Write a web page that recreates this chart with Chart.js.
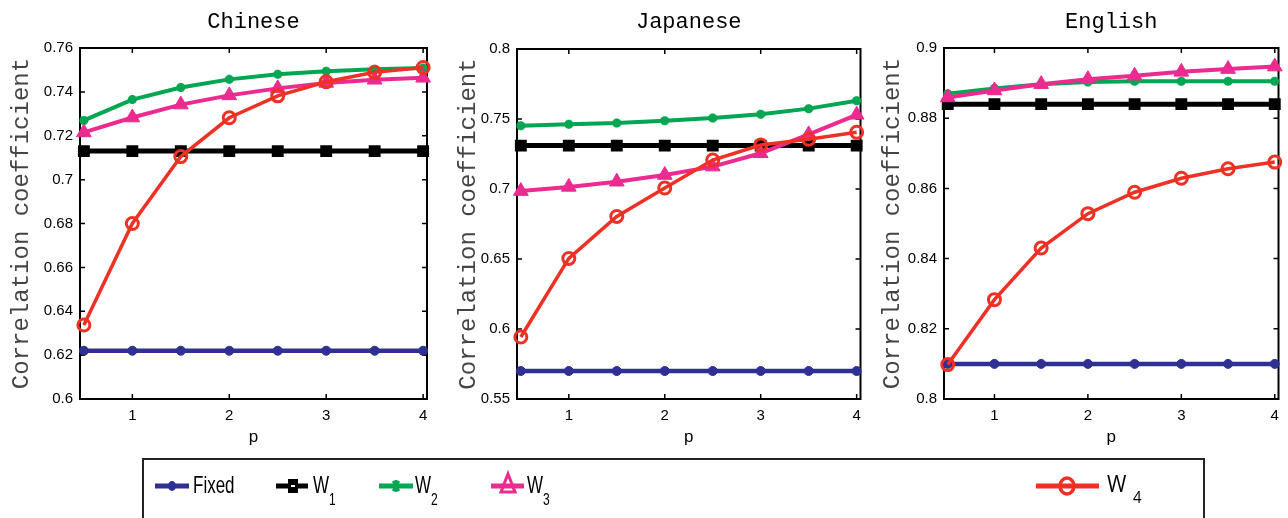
<!DOCTYPE html>
<html><head><meta charset="utf-8">
<script src="https://cdn.jsdelivr.net/npm/chart.js@4.4.0/dist/chart.umd.min.js"></script>
<style>
html,body{margin:0;padding:0;background:#fff;width:1288px;height:518px;overflow:hidden;position:relative}
.pane{position:absolute;top:0;height:455px}
#legend{position:absolute;left:142px;top:458px;width:1063px;height:64px;border:2px solid #222;box-sizing:border-box;background:#fff}
#legend canvas{position:absolute;left:0;top:0}
.lt{position:absolute;font-family:'Liberation Sans Narrow','Arial Narrow','Liberation Sans',sans-serif;color:#000;transform-origin:0 0;white-space:nowrap;line-height:1}
</style></head>
<body>
<div class="pane" style="left:0;width:440px"><canvas id="c1" width="440" height="455"></canvas></div>
<div class="pane" style="left:447px;width:423px"><canvas id="c2" width="423" height="455"></canvas></div>
<div class="pane" style="left:871px;width:417px"><canvas id="c3" width="417" height="455"></canvas></div>
<div id="legend"><canvas id="lg" width="1063" height="64"></canvas></div>
<script>
// ---- data ----
const pValues = [0.5, 1, 1.5, 2, 2.5, 3, 3.5, 4];
const xTicks = [1, 2, 3, 4];
const seriesNames = ['Fixed', 'W1', 'W2', 'W3', 'W4'];

const chineseFixed = [0.622, 0.622, 0.622, 0.622, 0.622, 0.622, 0.622, 0.622];
const chineseW1 = [0.713, 0.713, 0.713, 0.713, 0.713, 0.713, 0.713, 0.713];
const chineseW2 = [0.727, 0.7365, 0.742, 0.7457, 0.748, 0.7494, 0.7503, 0.7509];
const chineseW3 = [0.7215, 0.7283, 0.7342, 0.7384, 0.7416, 0.7441, 0.7455, 0.7464];
const chineseW4 = [0.6337, 0.68, 0.7105, 0.7282, 0.7382, 0.7446, 0.7489, 0.7511];
const chineseYTicks = [0.6, 0.62, 0.64, 0.66, 0.68, 0.7, 0.72, 0.74, 0.76];

const japaneseFixed = [0.57, 0.57, 0.57, 0.57, 0.57, 0.57, 0.57, 0.57];
const japaneseW1 = [0.731, 0.731, 0.731, 0.731, 0.731, 0.731, 0.731, 0.731];
const japaneseW2 = [0.7452, 0.7462, 0.7471, 0.7488, 0.7507, 0.7534, 0.7574, 0.7631];
const japaneseW3 = [0.6985, 0.7015, 0.7052, 0.71, 0.716, 0.7255, 0.739, 0.753];
const japaneseW4 = [0.5943, 0.6504, 0.6804, 0.7007, 0.7207, 0.7314, 0.7355, 0.7405];
const japaneseYTicks = [0.55, 0.6, 0.65, 0.7, 0.75, 0.8];

const englishFixed = [0.81, 0.81, 0.81, 0.81, 0.81, 0.81, 0.81, 0.81];
const englishW1 = [0.884, 0.884, 0.884, 0.884, 0.884, 0.884, 0.884, 0.884];
const englishW2 = [0.887, 0.8885, 0.8897, 0.8903, 0.8905, 0.8905, 0.8905, 0.8905];
const englishW3 = [0.8859, 0.8879, 0.8897, 0.8911, 0.8921, 0.8932, 0.894, 0.8947];
const englishW4 = [0.8098, 0.8283, 0.843, 0.8528, 0.8589, 0.8629, 0.8656, 0.8675];
const englishYTicks = [0.8, 0.82, 0.84, 0.86, 0.88, 0.9];

// ---- styles ----
const styles = [
  {color:'#2e3192', pointStyle:'circle', radius:4.5, width:4.5, pbw:1, bg:'#2e3192', order:5},
  {color:'#000000', pointStyle:'rect', radius:7, width:5, pbw:2, bg:'#000000', order:4},
  {color:'#00a651', pointStyle:'star', radius:4.5, width:4, pbw:3, bg:'#00a651', order:3},
  {color:'#ec2a8f', pointStyle:'triangle', radius:8.5, width:4, pbw:1, bg:'#ec2a8f', order:2},
  {color:'#ee3124', pointStyle:'circle', radius:6, width:3.5, pbw:3, bg:'rgba(0,0,0,0)', order:1}
];
const tickFont = {family:"'Liberation Sans Narrow','Arial Narrow','Liberation Sans',sans-serif", size:15};
const monoFont = "'Liberation Mono','DejaVu Sans Mono',monospace";

const framePlugin = {
  id:'frame',
  beforeDatasetsDraw(chart){
    const {ctx, chartArea:a, scales} = chart;
    ctx.save();
    ctx.strokeStyle = '#000'; ctx.lineWidth = 2;
    ctx.strokeRect(a.left, a.top, a.right - a.left, a.bottom - a.top);
    ctx.lineWidth = 1.5;
    const L = 5;
    ctx.beginPath();
    scales.x.ticks.forEach(t => {
      const x = scales.x.getPixelForValue(t.value);
      ctx.moveTo(x, a.bottom); ctx.lineTo(x, a.bottom - L);
      ctx.moveTo(x, a.top); ctx.lineTo(x, a.top + L);
    });
    scales.y.ticks.forEach(t => {
      const y = scales.y.getPixelForValue(t.value);
      ctx.moveTo(a.left, y); ctx.lineTo(a.left + L, y);
      ctx.moveTo(a.right, y); ctx.lineTo(a.right - L, y);
    });
    ctx.stroke();
    ctx.restore();
  }
};

function fmt(v){ return String(Number(v.toFixed(3))); }

function makeChart(id, title, series, yTicks, geo){
  const datasets = series.map((vals, i) => {
    const s = styles[i];
    return {
      label: seriesNames[i],
      data: pValues.map((p, k) => ({x:p, y:vals[k]})),
      borderColor: s.color, backgroundColor: s.bg,
      borderWidth: s.width, pointStyle: s.pointStyle, pointRadius: s.radius,
      pointBorderWidth: s.pbw, pointBorderColor: s.color, pointBackgroundColor: s.bg,
      pointHoverRadius: s.radius, tension: 0, clip: false, order: s.order
    };
  });
  const titleH = 22 * 1.2;
  return new Chart(document.getElementById(id), {
    type:'line',
    data:{datasets},
    plugins:[framePlugin],
    options:{
      responsive:false, animation:false, events:[],
      layout:{padding:{left:0, right:geo.padRight, top:0, bottom:0}},
      plugins:{
        legend:{display:false}, tooltip:{enabled:false},
        title:{display:true, text:title, fullSize:false, color:'#000',
          font:{family:monoFont, size:22, weight:'normal'},
          padding:{top:9, bottom:geo.top - 9 - titleH}}
      },
      scales:{
        x:{type:'linear', min:0.46, max:4.04,
          afterBuildTicks: s => { s.ticks = xTicks.map(v => ({value:v})); },
          afterFit: s => { s.height = 56; },
          grid:{display:false, drawTicks:false}, border:{display:false},
          ticks:{color:'#000', font:tickFont, padding:8, maxRotation:0, autoSkip:false,
            callback: v => String(v)},
          title:{display:true, text:'p', color:'#000',
            font:{family:tickFont.family, size:17}, padding:{top:0, bottom:7}}
        },
        y:{type:'linear', min:yTicks[0], max:yTicks[yTicks.length-1],
          afterBuildTicks: s => { s.ticks = yTicks.map(v => ({value:v})); },
          afterFit: s => { s.width = geo.yw; },
          grid:{display:false, drawTicks:false}, border:{display:false},
          ticks:{color:'#000', font:tickFont, padding:7, autoSkip:false, callback: v => fmt(v)},
          title:{display:true, text:'Correlation coefficient', color:'#444',
            font:{family:monoFont, size:24}, padding:{top:7.6, bottom:0}}
        }
      }
    }
  });
}

makeChart('c1', 'Chinese', [chineseFixed, chineseW1, chineseW2, chineseW3, chineseW4], chineseYTicks, {yw:80, padRight:13, top:48});
makeChart('c2', 'Japanese', [japaneseFixed, japaneseW1, japaneseW2, japaneseW3, japaneseW4], japaneseYTicks, {yw:70, padRight:8, top:49});
makeChart('c3', 'English', [englishFixed, englishW1, englishW2, englishW3, englishW4], englishYTicks, {yw:73, padRight:1, top:48});

// ---- legend ----
(function(){
  const lg = document.getElementById('legend');
  const ctx = document.getElementById('lg').getContext('2d');
  const ox = 144, oy = 460; // legend canvas origin in page coords
  const items = [
    {x0:155, x1:189, mx:172},
    {x0:276, x1:308, mx:293},
    {x0:379, x1:413, mx:396},
    {x0:491, x1:524, mx:508},
    {x0:1036, x1:1099, mx:1067}
  ];
  const cy = 486 - oy;
  items.forEach((it, i) => {
    const s = styles[i];
    ctx.strokeStyle = s.color; ctx.lineWidth = 5;
    ctx.beginPath(); ctx.moveTo(it.x0 - ox, cy); ctx.lineTo(it.x1 - ox, cy); ctx.stroke();
    const mx = it.mx - ox;
    ctx.fillStyle = s.color;
    if (i === 0) { ctx.beginPath(); ctx.ellipse(mx, cy, 4, 5, 0, 0, Math.PI*2); ctx.fill(); }
    if (i === 1) { ctx.fillRect(mx - 5, cy - 7, 10, 14); ctx.fillStyle = '#fff'; ctx.fillRect(mx - 2, cy - 1, 4, 2); }
    if (i === 2) { ctx.lineWidth = 2.5; ctx.beginPath();
      ctx.moveTo(mx - 3, cy - 5); ctx.lineTo(mx + 3, cy + 5); ctx.moveTo(mx + 3, cy - 5); ctx.lineTo(mx - 3, cy + 5);
      ctx.moveTo(mx, cy - 6); ctx.lineTo(mx, cy + 6); ctx.stroke(); }
    if (i === 3) { ctx.lineWidth = 3; ctx.beginPath(); ctx.moveTo(mx, cy - 12); ctx.lineTo(mx + 7, cy + 6); ctx.lineTo(mx - 7, cy + 6); ctx.closePath(); ctx.stroke(); }
    if (i === 4) { ctx.lineWidth = 3.5; ctx.beginPath(); ctx.ellipse(mx, cy, 7, 8, 0, 0, Math.PI*2); ctx.stroke(); }
  });
  function addText(txt, x, y, size, sy, fam){
    const d = document.createElement('div');
    d.className = 'lt'; d.textContent = txt;
    d.style.left = (x - ox) + 'px'; d.style.top = (y - oy) + 'px';
    d.style.fontSize = size + 'px';
    if (fam) d.style.fontFamily = fam;
    d.style.transform = 'scale(1,' + sy + ')';
    lg.appendChild(d);
  }
  addText('Fixed', 193, 474, 17, 1.37);
  const ws = [{w:313, s:329, n:'1'}, {w:415, s:431, n:'2'}, {w:527, s:543, n:'3'}];
  ws.forEach(o => { addText('W', o.w, 474, 17, 1.37); addText(o.n, o.s, 492, 12, 1.3); });
  addText('W', 1107, 472, 21, 1.1, "'Open Sans','Liberation Sans',sans-serif");
  addText('4', 1133, 489, 15, 1.1, "'Open Sans','Liberation Sans',sans-serif");
})();
</script>
</body></html>
